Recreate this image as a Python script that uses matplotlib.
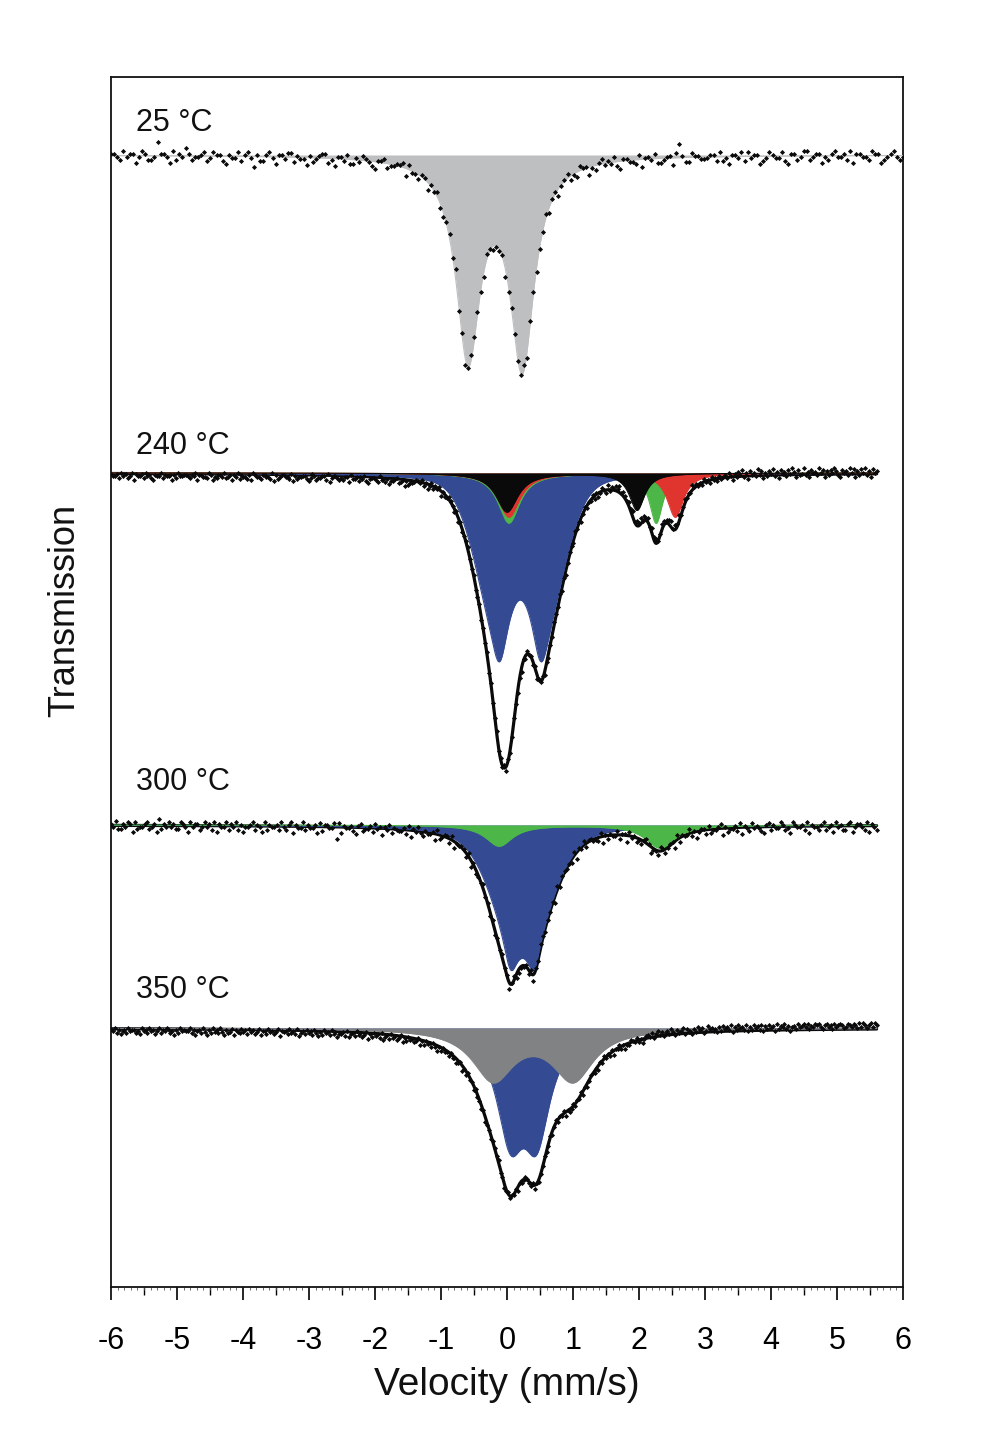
import numpy as np
import matplotlib
matplotlib.use("Agg")
import matplotlib.pyplot as plt
from matplotlib.ticker import MultipleLocator, NullFormatter

plt.rcParams['font.family'] = ['Liberation Sans', 'DejaVu Sans']

# ------------------------------------------------------------------ data
temps = ["25 \u00b0C", "240 \u00b0C", "300 \u00b0C", "350 \u00b0C"]
vel_lo = [-6.0, -6.0, -6.0, -6.0]
vel_hi = [6.0, 5.6, 5.6, 5.6]

# fitted sub-spectra: line positions (mm/s), depths (arb. units),
# half widths (mm/s) and Lorentzian fraction of each line
g25_pos = [-0.59, 0.23]
g25_depth = [198, 206]
g25_hwhm = [0.22, 0.22]
g25_eta = [1.0, 1.0]

b240_pos = [-0.11, 0.51, -0.20, 0.60]
b240_depth = [55, 55, 123, 123]
b240_hwhm = [0.15, 0.15, 0.36, 0.36]
b240_eta = [1.0, 1.0, 0.3, 0.3]
gr240_pos = [0.03, 2.26]
gr240_depth = [50, 50]
gr240_hwhm = [0.20, 0.12]
r240_pos = [0.03, 2.55]
r240_depth = [44, 44]
r240_hwhm = [0.20, 0.15]
k240_pos = [0.00, 1.97]
k240_depth = [39, 37]
k240_hwhm = [0.20, 0.14]

b300_pos = [0.055, 0.41, 0.0, 0.46]
b300_depth = [35, 35, 72, 72]
b300_hwhm = [0.12, 0.12, 0.40, 0.40]
b300_eta = [1.0, 1.0, 0.5, 0.5]
gr300_pos = [-0.12, 2.32]
gr300_depth = [21, 23]
gr300_hwhm = [0.25, 0.27]

b350_pos = [0.05, 0.45]
b350_depth = [99, 99]
b350_hwhm = [0.25, 0.25]
g350_pos = [-0.21, 1.00]
g350_depth = [50.5, 50.5]
g350_hwhm = [0.38, 0.38]

# measured points = fit + residual; residual digits (0..9, centred on 4.5)
res25 = ("44563544753466504457364524655436"
         "53446745536435846643574453364557"
         "46543365744536645345674436554437"
         "35564474536643516475344563465547"
         "64455374465536447543656344756435"
         "45367445563744536654473046634455"
         "54463657445363544765345536744653"
         "36544756435546374455634476543565")
res240 = ("5665746557648566574657856647566585746655"
          "6756485566745867556476585647566758456675"
          "5667485765566748576655786457665574865567"
          "6755846657564786556746575866547658576654"
          "4536475364537465345637465435647536453746"
          "5364537465346574635463745364756345364753"
          "4635475364536475346253423142342314231423"
          "2413243124321423143243524354635463546354"
          "3524635241536243514263524153624352413625"
          "4153624351426352413562435142635241536243")
res300 = ("4536645347365543654726453546634573544653"
          "5463745536453647554364573645546356437455"
          "3645547364455393745546743655463547453645"
          "5546374535645547365446375544637465535464"
          "6453547436655463745346554736445563745364"
          "4556374645536447354656434755634654473645"
          "5364754463655437465546374563545674364553"
          "4657345546374556436547354664375445637456")
res350 = ("5647586574655768465746586475645768574656"
          "6475865746857465746857648567465746576485"
          "5746576485657465748657465746857465746586"
          "6574865746576485746574865746576485746576"
          "4857465746857465746576485746574657486574"
          "4536475364537465345637465435647536453746"
          "5364537465346574635463745364756345364753"
          "3425314253241352431524352413254132435241"
          "3241524132415241324152413251423142532413"
          "2131423121342132413212431231241312421312")
res_scale = [3.0, 1.8, 2.6, 1.6]

# ------------------------------------------------------------------ layout / style
baselines = [1132, 814, 462, 259]
label_y = [1156, 833, 497, 289]
C_GRAY1 = '#BEBFC1'
C_GRAY2 = '#808284'
C_BLUE = '#344B93'
C_GREEN = '#4DB648'
C_RED = '#E0342E'
C_BLACK = '#0A0A0A'


def lines(v, pos, depth, hwhm, eta=None):
    if eta is None:
        eta = [1.0] * len(pos)
    out = np.zeros_like(v)
    for p, d, w, e in zip(pos, depth, hwhm, eta):
        x = (v - p) / w
        out += d * (e / (1 + x * x) + (1 - e) * np.exp(-np.log(2) * x * x))
    return out


def resid(s):
    return np.array([int(c) for c in s], dtype=float) - 4.5


fig = plt.figure(figsize=(10.03, 14.42), dpi=100)
ax = fig.add_axes([111 / 1003, 155 / 1442, 792 / 1003, 1210 / 1442])
ax.set_xlim(-6, 6)
ax.set_ylim(0, 1210)

specs = [
    [(g25_pos, g25_depth, g25_hwhm, g25_eta, C_GRAY1)],
    [(b240_pos, b240_depth, b240_hwhm, b240_eta, C_BLUE),
     (gr240_pos, gr240_depth, gr240_hwhm, None, C_GREEN),
     (r240_pos, r240_depth, r240_hwhm, None, C_RED),
     (k240_pos, k240_depth, k240_hwhm, None, C_BLACK)],
    [(b300_pos, b300_depth, b300_hwhm, b300_eta, C_BLUE),
     (gr300_pos, gr300_depth, gr300_hwhm, None, C_GREEN)],
    [(b350_pos, b350_depth, b350_hwhm, None, C_BLUE),
     (g350_pos, g350_depth, g350_hwhm, None, C_GRAY2)],
]
residuals = [res25, res240, res300, res350]

for i in range(4):
    base = baselines[i]
    vf = np.linspace(vel_lo[i], vel_hi[i], 1500)
    total = np.zeros_like(vf)
    for (pos, dep, hw, eta, col) in specs[i]:
        comp = lines(vf, pos, dep, hw, eta)
        total += comp
        ax.fill_between(vf, base, base - comp, color=col, lw=0, zorder=3)
        ax.plot(vf, base - comp, color=col, lw=0.8, zorder=3)
    if i > 0:
        ax.plot(vf, base - total, color=C_BLACK, lw=2.3, zorder=2.5,
                solid_capstyle='round')
    r = resid(residuals[i])
    vp = np.linspace(vel_lo[i], vel_hi[i], len(r))
    tp = np.zeros_like(vp)
    for (pos, dep, hw, eta, col) in specs[i]:
        tp += lines(vp, pos, dep, hw, eta)
    yp = base - (tp + res_scale[i] * r)
    ax.plot(vp, yp, ls='none', marker='D', ms=2.6, mec='none',
            mfc=C_BLACK, zorder=4)
    ax.text(-5.62, label_y[i], temps[i], fontsize=22, ha='left',
            va='baseline', color='#111111')

# axes styling
for sp in ax.spines.values():
    sp.set_linewidth(1.3)
    sp.set_color('#111111')
ax.xaxis.set_minor_locator(MultipleLocator(0.1))
ax.set_xticks(np.arange(-6, 7, 1))
ax.set_xticklabels([str(t) for t in range(-6, 7)])
ax.tick_params(axis='x', which='major', direction='out', length=9, width=1.2,
               labelsize=22, pad=19, top=False)
ax.tick_params(axis='x', which='minor', direction='out', length=2.5, width=0.6,
               top=False, color='#555555')
sec = ax.secondary_xaxis('bottom')
sec.set_xticks(np.arange(-5.5, 6, 1))
sec.xaxis.set_major_formatter(NullFormatter())
sec.tick_params(direction='out', length=6, width=1.0)
sec.spines['bottom'].set_visible(False)
ax.set_yticks([])

fig.text(507 / 1003, 1 - 1385 / 1442, "Velocity (mm/s)", fontsize=28,
         ha='center', va='center', color='#111111')
fig.text(65 / 1003, 1 - 610 / 1442, "Transmission", fontsize=26,
         ha='center', va='center', rotation=90, color='#111111')

fig.savefig("out.png", dpi=100)
